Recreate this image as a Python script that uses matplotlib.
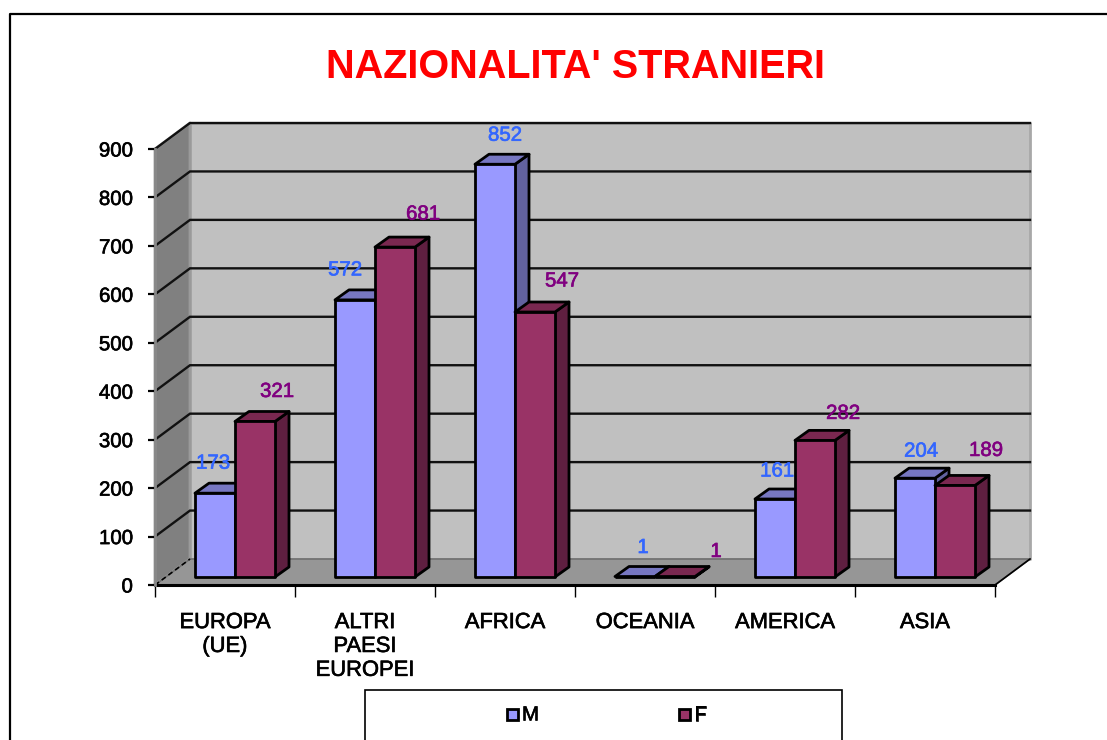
import matplotlib
matplotlib.use("Agg")

import matplotlib.patheffects as pe
import matplotlib.pyplot as plt
import numpy as np
from matplotlib.patches import Polygon, Rectangle

plt.rcParams["font.family"] = ["Liberation Sans", "DejaVu Sans"]

categories = ["EUROPA\n(UE)", "ALTRI\nPAESI\nEUROPEI", "AFRICA", "OCEANIA", "AMERICA", "ASIA"]
males = [173, 572, 852, 1, 161, 204]
females = [321, 681, 547, 1, 282, 189]
y_ticks = [0, 100, 200, 300, 400, 500, 600, 700, 800, 900]

# label nudges in pixels from the bar top centre, labels were hand placed
male_nudge = [(-2, 30), (-10, 30), (10, 29), (8, 29), (2, 28), (6, 27)]
female_nudge = [(22, 30), (28, 33), (27, 31), (41, 25), (28, 27), (31, 35)]

W, H = 1107, 740
X0, X1, Y0, Y9 = 155, 995, 585, 149  # front plane of the chart, in pixels
PX_X = (X1 - X0) / 6
PX_Y = (Y0 - Y9) / 900


def cx(px):
    return px / PX_X


def cy(px):
    return px / PX_Y


def heavy(color):
    # the source text is a blurry screenshot and reads a bit heavier than regular
    return [pe.withStroke(linewidth=0.45, foreground=color)]


DEPTH_X, DEPTH_Y = cx(35), cy(26)
BASE_X, BASE_Y = cx(11), cy(8)
BAR_X, BAR_Y = cx(14), cy(10)
BAR_W = cx(40)

fig = plt.figure(figsize=(W / 100, H / 100), dpi=100, facecolor="white")
ax = fig.add_axes([X0 / W, 1 - Y0 / H, (X1 - X0) / W, (Y0 - Y9) / H])
ax.set_xlim(0, 6)
ax.set_ylim(0, 900)
ax.patch.set_visible(False)
for spine in ax.spines.values():
    spine.set_visible(False)


def poly(points, color, z, edge="black", lw=2.0):
    ax.add_patch(Polygon(points, closed=True, facecolor=color, edgecolor=edge,
                         linewidth=lw, joinstyle="round", clip_on=False, zorder=z))


# walls and floor
top = 900 + DEPTH_Y
poly([(DEPTH_X, DEPTH_Y), (6 + DEPTH_X, DEPTH_Y), (6 + DEPTH_X, top), (DEPTH_X, top)],
     "#c0c0c0", 1, edge="#a8a8a8", lw=2)
poly([(0, 0), (DEPTH_X, DEPTH_Y), (DEPTH_X, top), (0, 900)], "#808080", 1, edge="#9a9a9a", lw=2)
poly([(0, 0), (6, 0), (6 + DEPTH_X, DEPTH_Y), (DEPTH_X, DEPTH_Y)], "#969696", 1, edge="#707070", lw=1.2)

# gridlines run along the back wall and down the side wall
for tick in y_ticks:
    if tick == 0:
        continue
    ax.plot([0, DEPTH_X, 6 + DEPTH_X], [tick, tick + DEPTH_Y, tick + DEPTH_Y],
            color="#111111", lw=1.7, clip_on=False, zorder=2, solid_joinstyle="miter")
ax.plot([0, DEPTH_X], [0, DEPTH_Y], color="black", lw=1.2, ls=(0, (3, 2)), clip_on=False, zorder=2)
ax.plot([0, 6], [0, 0], color="black", lw=2.2, clip_on=False, zorder=2)
ax.plot([6, 6 + DEPTH_X], [0, DEPTH_Y], color="black", lw=1.2, clip_on=False, zorder=2)
ax.plot([0, 0], [0, 900], color="#888888", lw=2, clip_on=False, zorder=2)


def draw_bar(left, value, front, top_col, side_col, z):
    x0 = left + BASE_X
    x1 = x0 + BAR_W
    y0 = BASE_Y
    y1 = y0 + value
    poly([(x1, y0), (x1 + BAR_X, y0 + BAR_Y), (x1 + BAR_X, y1 + BAR_Y), (x1, y1)], side_col, z)
    poly([(x0, y1), (x1, y1), (x1 + BAR_X, y1 + BAR_Y), (x0 + BAR_X, y1 + BAR_Y)], top_col, z)
    poly([(x0, y0), (x1, y0), (x1, y1), (x0, y1)], front, z + 0.1)
    return (x0 + x1) / 2, y1


for i, (m, f) in enumerate(zip(males, females)):
    left = i + cx(29)
    mx, my = draw_bar(left, m, "#9999ff", "#7777c2", "#62629f", 3 + i)
    fx, fy = draw_bar(left + BAR_W, f, "#993366", "#7a2850", "#5f1f40", 3.2 + i)
    ax.annotate(str(m), (mx, my), xytext=(male_nudge[i][0] * 0.72, male_nudge[i][1] * 0.72),
                textcoords="offset points", ha="center", va="center", path_effects=heavy("#3366ff"),
                fontsize=14.7, color="#3366ff", zorder=20, annotation_clip=False)
    ax.annotate(str(f), (fx, fy), xytext=(female_nudge[i][0] * 0.72, female_nudge[i][1] * 0.72),
                textcoords="offset points", ha="center", va="center", path_effects=heavy("#800080"),
                fontsize=14.7, color="#800080", zorder=20, annotation_clip=False)

# axis ticks and labels
ax.set_yticks(y_ticks)
ax.tick_params(axis="y", length=5, width=1.6, pad=11, labelsize=14.7, labelcolor="black")
for lab in ax.get_yticklabels():
    lab.set_path_effects(heavy("black"))
    lab.set_y(lab.get_position()[1])
ax.set_xticks(np.arange(7))
ax.set_xticklabels([])
ax.tick_params(axis="x", which="major", length=8.5, width=1, labelbottom=False)
ax.set_xticks(np.arange(6) + 0.5, categories, minor=True)
ax.tick_params(axis="x", which="minor", length=0, pad=19.5, labelsize=15.8)
for lab in ax.get_xticklabels(minor=True):
    lab.set_linespacing(1.18)
    lab.set_va("top")
    lab.set_path_effects(heavy("black"))

# title, outer frame and legend sit in a plain pixel overlay
over = fig.add_axes([0, 0, 1, 1], zorder=-1)
over.set_xlim(0, W)
over.set_ylim(H, 0)
over.axis("off")
over.plot([10, 10, W], [H, 14, 14], color="black", lw=1.6)
over.text(576, 67, "NAZIONALITA' STRANIERI", color="#ff0000", fontsize=28.5,
          fontweight="bold", ha="center", va="center")
over.add_patch(Rectangle((364.5, 689.5), 477, 60, facecolor="white", edgecolor="black", lw=1.2))
for x_box, color, name in [(507, "#9999ff", "M"), (679, "#993366", "F")]:
    over.add_patch(Rectangle((x_box, 709), 11, 11, facecolor=color, edgecolor="black", lw=2.0))
    over.text(x_box + 15, 715, name, fontsize=14.7, ha="left", va="center", color="black",
              path_effects=heavy("black"))

fig.savefig("out.png", dpi=100)
plt.close(fig)
